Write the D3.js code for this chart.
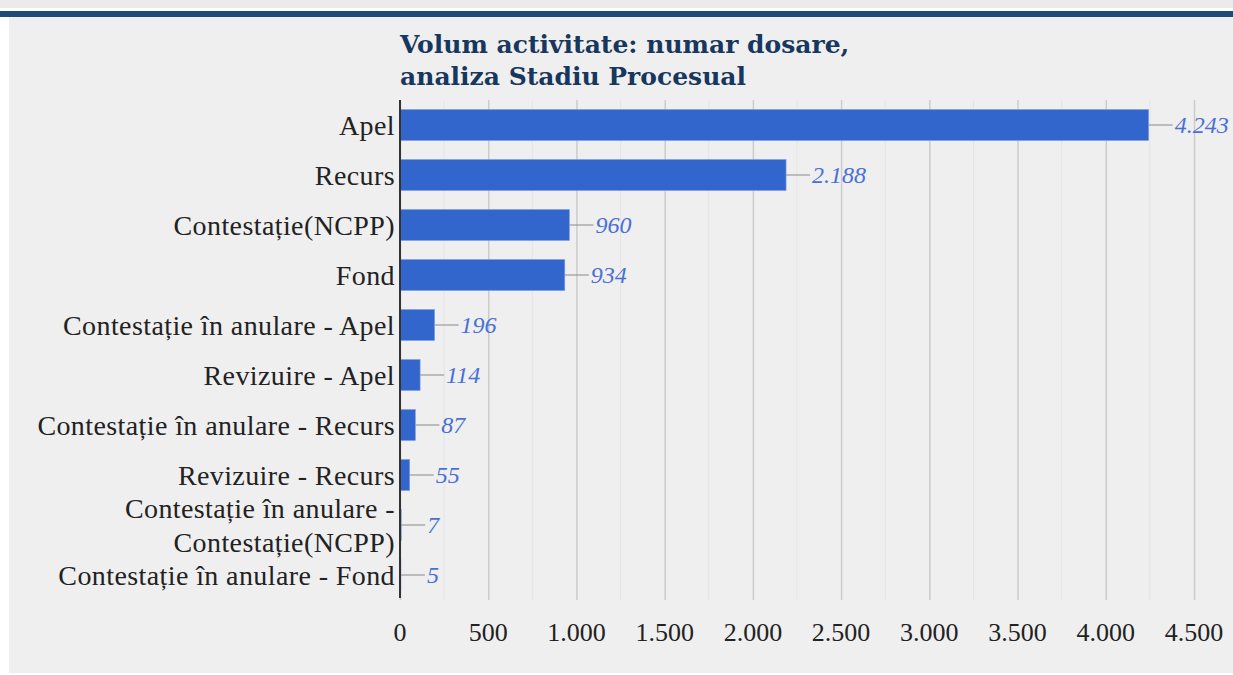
<!DOCTYPE html>
<html>
<head>
<meta charset="utf-8">
<script src="https://cdn.jsdelivr.net/npm/d3@7"></script>
<style>
  body { margin: 0; background: #ffffff; }
  svg { display: block; }
</style>
</head>
<body>
<svg id="chart" width="1233" height="675"></svg>
<script>
// categories and counts
var categories = [
  "Apel",
  "Recurs",
  "Contestație(NCPP)",
  "Fond",
  "Contestație în anulare - Apel",
  "Revizuire - Apel",
  "Contestație în anulare - Recurs",
  "Revizuire - Recurs",
  "Contestație în anulare - Contestație(NCPP)",
  "Contestație în anulare - Fond"
];
var values = [4243, 2188, 960, 934, 196, 114, 87, 55, 7, 5];
var tickValues = [0, 500, 1000, 1500, 2000, 2500, 3000, 3500, 4000, 4500];
var titleLines = ["Volum activitate: numar dosare,", "analiza Stadiu Procesual"];

var svg = d3.select("#chart");
var labelFont = "'Liberation Serif', serif";

// background
svg.append("rect").attr("x", 0).attr("y", 0).attr("width", 1233).attr("height", 675).attr("fill", "#ffffff");
svg.append("rect").attr("x", 0).attr("y", 0).attr("width", 1233).attr("height", 8).attr("fill", "#ebebeb");
svg.append("rect").attr("x", 9).attr("y", 16).attr("width", 1224).attr("height", 657).attr("fill", "#efefef");
svg.append("rect").attr("x", 0).attr("y", 11).attr("width", 1233).attr("height", 6).attr("fill", "#1f4b78");

var plotLeft = 400, plotTop = 100, plotBottom = 600;

var ro = d3.formatLocale({decimal: ",", thousands: ".", grouping: [3], currency: ["", " lei"]});
var fmt = ro.format(",d");

var x = d3.scaleLinear().domain([0, 4500]).range([plotLeft, 1194]);
var y = d3.scaleBand().domain(categories).range([plotTop, plotBottom]).paddingInner(0.38).paddingOuter(0.19);

// minor gridlines
svg.append("g").selectAll("line")
  .data(d3.range(250, 4500, 500))
  .enter().append("line")
  .attr("x1", function(d) { return x(d); }).attr("x2", function(d) { return x(d); })
  .attr("y1", plotTop).attr("y2", plotBottom)
  .attr("stroke", "#e4e4e4").attr("stroke-width", 1);

// major gridlines + ticks
svg.append("g")
  .attr("transform", "translate(0," + plotBottom + ")")
  .call(d3.axisBottom(x).tickValues(tickValues).tickSize(-(plotBottom - plotTop)).tickFormat(""))
  .call(function(g) {
    g.select(".domain").remove();
    g.selectAll(".tick line").attr("stroke", "#cccccc").attr("stroke-width", 1.5);
  });

// tick labels
svg.append("g").selectAll("text")
  .data(tickValues)
  .enter().append("text")
  .attr("x", function(d) { return x(d); })
  .attr("y", 641)
  .attr("text-anchor", "middle")
  .attr("font-family", labelFont)
  .attr("font-size", 26)
  .attr("fill", "#222")
  .text(function(d) { return fmt(d); });

// bars
svg.append("g").selectAll("rect")
  .data(values)
  .enter().append("rect")
  .attr("x", plotLeft)
  .attr("y", function(d, i) { return y(categories[i]); })
  .attr("width", function(d) { return x(d) - plotLeft; })
  .attr("height", y.bandwidth())
  .attr("fill", "#3366cc")
  .attr("stroke", "#7f9ee0")
  .attr("stroke-width", 0.6);

// connectors + value labels
var cy = function(i) { return y(categories[i]) + y.bandwidth() / 2; };
svg.append("g").selectAll("line")
  .data(values)
  .enter().append("line")
  .attr("x1", function(d) { return x(d); })
  .attr("x2", function(d) { return x(d) + 24; })
  .attr("y1", function(d, i) { return cy(i); })
  .attr("y2", function(d, i) { return cy(i); })
  .attr("stroke", "#999999").attr("stroke-width", 1.2);

svg.append("g").selectAll("text")
  .data(values)
  .enter().append("text")
  .attr("x", function(d) { return x(d) + 26; })
  .attr("y", function(d, i) { return cy(i); })
  .attr("dy", "0.35em")
  .attr("font-family", labelFont)
  .attr("font-style", "italic")
  .attr("font-size", 24)
  .attr("fill", "#4a6fd6")
  .text(function(d) { return fmt(d); });

// category labels (long one wraps in two lines)
var catG = svg.append("g");
categories.forEach(function(c, i) {
  var lines = c.length > 32 ? ["Contestație în anulare -", "Contestație(NCPP)"] : [c];
  var t = catG.append("text")
    .attr("text-anchor", "end")
    .attr("font-family", labelFont)
    .attr("font-size", 28)
    .attr("letter-spacing", 0.4)
    .attr("fill", "#222");
  lines.forEach(function(l, k) {
    t.append("tspan")
      .attr("x", plotLeft - 5)
      .attr("y", cy(i) + (k - (lines.length - 1) / 2) * 34)
      .attr("dy", "0.35em")
      .text(l);
  });
});

// left axis line
svg.append("line")
  .attr("x1", plotLeft).attr("x2", plotLeft)
  .attr("y1", plotTop).attr("y2", plotBottom - 2)
  .attr("stroke", "#333").attr("stroke-width", 2);

// title
svg.append("g").selectAll("text")
  .data(titleLines)
  .enter().append("text")
  .attr("x", plotLeft)
  .attr("y", function(d, i) { return 53 + i * 32; })
  .attr("font-family", "'DejaVu Serif', serif")
  .attr("font-weight", "bold")
  .attr("font-size", 25)
  .attr("fill", "#17375e")
  .text(function(d) { return d; });
</script>
</body>
</html>
